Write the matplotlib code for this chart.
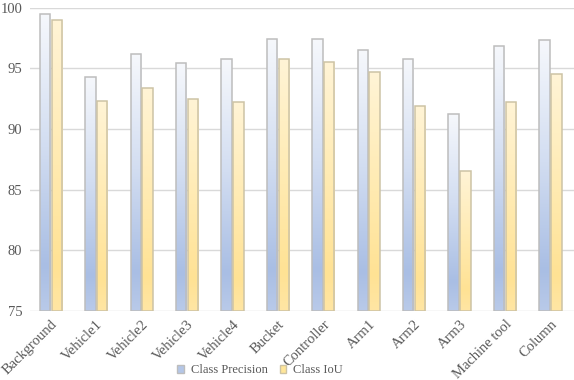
import numpy as np
import matplotlib
matplotlib.use("Agg")
import matplotlib.pyplot as plt
from matplotlib.colors import LinearSegmentedColormap
from matplotlib.patches import Patch

categories = ["Background", "Vehicle1", "Vehicle2", "Vehicle3", "Vehicle4", "Bucket",
              "Controller", "Arm1", "Arm2", "Arm3", "Machine tool", "Column"]
precision = [99.5, 94.3, 96.2, 95.4, 95.8, 97.4, 97.4, 96.5, 95.8, 91.2, 96.8, 97.3]
iou = [99.0, 92.3, 93.4, 92.5, 92.2, 95.8, 95.5, 94.7, 91.9, 86.5, 92.2, 94.5]

plt.rcParams['font.family'] = ['Liberation Serif', 'DejaVu Serif']

# bars are filled with a vertical gradient, light at the top
blue_cmap = LinearSegmentedColormap.from_list(
    "pb", [(0.0, "#f6f8fc"), (0.45, "#d2ddf1"), (0.85, "#a9bee4"), (1.0, "#b9cae9")])
yellow_cmap = LinearSegmentedColormap.from_list(
    "iy", [(0.0, "#fff4d6"), (0.5, "#ffeab0"), (0.85, "#ffe294"), (1.0, "#ffe6a4")])

fig = plt.figure(figsize=(5.74, 3.80), dpi=100)
ax = fig.add_axes([0.0523, 0.182, 0.9477, 0.798])

base = 75
x = np.arange(len(categories))
w = 0.23
gap = 0.03
grad = np.linspace(0, 1, 256).reshape(-1, 1)


def gradient_bars(xs, vals, cmap, edge):
    bars = ax.bar(xs, np.array(vals) - base, bottom=base, width=w,
                  facecolor="none", edgecolor=edge, linewidth=1.1, zorder=3)
    for b in bars:
        x0, y0 = b.get_x(), b.get_y()
        im = ax.imshow(grad, cmap=cmap, aspect="auto", origin="upper",
                       extent=(x0, x0 + b.get_width(), y0, y0 + b.get_height()),
                       zorder=2)
        im.set_clip_path(b)
    return bars


gradient_bars(x - w / 2 - gap / 2, precision, blue_cmap, "#bdbdbd")
gradient_bars(x + w / 2 + gap / 2, iou, yellow_cmap, "#cdc3a5")

ax.set_xlim(-0.46, 11.52)
ax.set_ylim(75, 100)
ax.set_yticks([75, 80, 85, 90, 95, 100])
ax.yaxis.grid(True, color="#d9d9d9", linewidth=1.0, zorder=0)
ax.set_axisbelow(True)
for s in ax.spines.values():
    s.set_visible(False)
ax.tick_params(axis="both", length=0, labelsize=10.5, colors="#595959")
ax.tick_params(axis="y", pad=5.5)
ax.tick_params(axis="x", pad=5)
ax.set_xticks(x)
ax.set_xticklabels(categories, rotation=45, ha="right", rotation_mode="anchor")

handles = [Patch(facecolor="#b4c6e7", edgecolor="#bdbdbd", label="Class Precision"),
           Patch(facecolor="#ffe699", edgecolor="#cdc3a5", label="Class IoU")]
fig.legend(handles=handles, loc="lower center", ncol=2, frameon=False,
           bbox_to_anchor=(0.453, -0.02), fontsize=9, handlelength=0.55,
           handleheight=0.55, handletextpad=0.55, columnspacing=0.95,
           labelcolor="#595959")

fig.savefig("out.png", dpi=100)
